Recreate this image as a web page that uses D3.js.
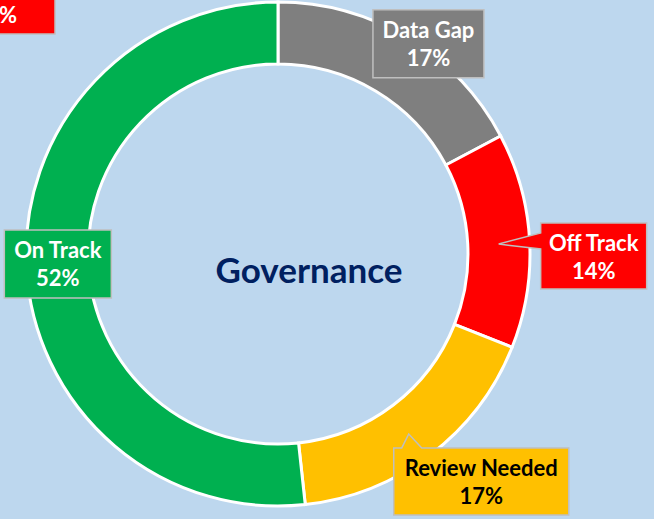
<!DOCTYPE html>
<html>
<head>
<meta charset="utf-8">
<script src="https://cdn.jsdelivr.net/npm/d3@7"></script>
<style>
  html, body { margin: 0; padding: 0; background: #bdd7ee; }
  svg { display: block; }
  text { font-family: Lato, "Open Sans", sans-serif; font-weight: bold; }
</style>
</head>
<body>
<div id="viz-body"></div>
<script>
// status categories, item counts and their colours
const categories = ["Data Gap", "Off Track", "Review Needed", "On Track"];
const counts = [5, 4, 5, 15];
const sliceColors = ["#7f7f7f", "#ff0000", "#ffc000", "#00b050"];
const textColors = ["#ffffff", "#ffffff", "#000000", "#ffffff"];
const title = "Governance";

// label boxes (offset from the slice centroid) and callout tips
const labelBoxes = [
    { dx: -19, dy: -55, w: 111, h: 68, tip: null },
    { dx: 42, dy: -19, w: 106, h: 66, tip: "left" },
    { dx: -18, dy: 18, w: 175, h: 67, tip: "top" },
    { dx: -53, dy: -36, w: 107, h: 68, tip: null }
];

const width = 654, height = 519;
const cx = 278, cy = 254, outerR = 252, innerR = 190;

const svg = d3.select("#viz-body")
    .append("svg")
    .attr("width", width)
    .attr("height", height);

svg.append("rect")
    .attr("width", width).attr("height", height)
    .attr("fill", "#bdd7ee");

// leftover label from the neighbouring chart, clipped at the corner
svg.append("rect")
    .attr("x", -60).attr("y", -10).attr("width", 115).attr("height", 44)
    .attr("fill", "#ff0000").attr("stroke", "#bfbfbf").attr("stroke-width", 1.5);
svg.append("text")
    .attr("x", 8).attr("y", 23)
    .attr("text-anchor", "middle")
    .attr("fill", "#fff")
    .style("font-size", "22px")
    .text("%");

const total = d3.sum(counts);
const pie = d3.pie().sort(null).value(d => d);
const arcs = pie(counts);
const arc = d3.arc().innerRadius(innerR).outerRadius(outerR);

const g = svg.append("g").attr("transform", "translate(" + cx + "," + cy + ")");

g.selectAll("path.slice")
    .data(arcs)
    .enter()
    .append("path")
    .attr("class", "slice")
    .attr("d", arc)
    .attr("fill", (d, i) => sliceColors[i])
    .attr("stroke", "#fff")
    .attr("stroke-width", 3);

// title in the hole
g.append("text")
    .attr("x", 31).attr("y", 29)
    .attr("text-anchor", "middle")
    .attr("fill", "#002060")
    .style("font-size", "35px")
    .text(title);

// data labels with callouts
arcs.forEach(function (d, i) {
    const c = arc.centroid(d);
    const b = labelBoxes[i];
    const x0 = c[0] + b.dx, y0 = c[1] + b.dy;
    const x1 = x0 + b.w, y1 = y0 + b.h;
    let pts;
    if (b.tip === "left") {
        pts = [[x0, y0], [x1, y0], [x1, y1], [x0, y1], [x0, y0 + 26],
               [c[0], c[1] + 2], [x0, y0 + 10]];
    } else if (b.tip === "top") {
        pts = [[x0, y0], [x0 + 8, y0], [c[0] - 3, c[1] + 4], [x0 + 28, y0],
               [x1, y0], [x1, y1], [x0, y1]];
    } else {
        pts = [[x0, y0], [x1, y0], [x1, y1], [x0, y1]];
    }
    g.append("path")
        .attr("d", "M" + pts.map(p => p.join(",")).join("L") + "Z")
        .attr("fill", sliceColors[i])
        .attr("stroke", "#bfbfbf")
        .attr("stroke-width", 1.5);
    const pct = Math.round(d.value / total * 100) + "%";
    const tx = (x0 + x1) / 2;
    g.append("text")
        .attr("x", tx).attr("y", y0 + 28)
        .attr("text-anchor", "middle")
        .attr("fill", textColors[i])
        .style("font-size", "22px")
        .text(categories[i]);
    g.append("text")
        .attr("x", tx).attr("y", y0 + 56)
        .attr("text-anchor", "middle")
        .attr("fill", textColors[i])
        .style("font-size", "22px")
        .text(pct);
});
</script>
</body>
</html>
